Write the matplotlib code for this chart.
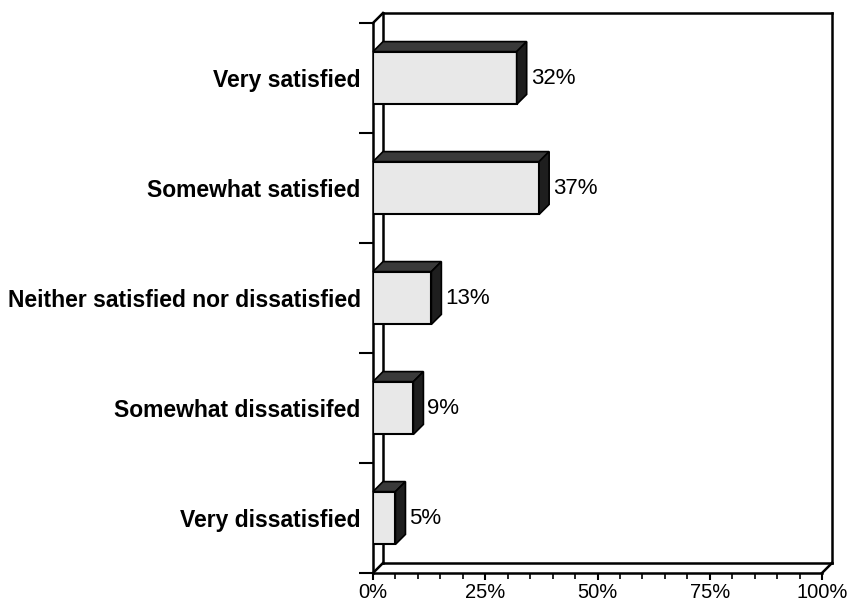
import matplotlib
matplotlib.use("Agg")
import matplotlib.pyplot as plt
from matplotlib.patches import Polygon
from matplotlib.ticker import MultipleLocator, FixedLocator, FuncFormatter

categories = ["Very satisfied", "Somewhat satisfied",
              "Neither satisfied nor dissatisfied",
              "Somewhat dissatisifed", "Very dissatisfied"]
values = [32, 37, 13, 9, 5]
x_ticks = [0, 25, 50, 75, 100]

plt.rcParams["font.family"] = ["Liberation Sans", "DejaVu Sans"]

fig = plt.figure(figsize=(8.48, 6.02), dpi=100)
W, H = 848, 602
x0, x1 = 373, 822
y0, y1 = 573, 23
ax = fig.add_axes([x0 / W, (H - y0) / H, (x1 - x0) / W, (y0 - y1) / H])

n = len(categories)
ax.set_xlim(0, 100)
ax.set_ylim(0, n)
for s in ax.spines.values():
    s.set_visible(False)

# depth of the pseudo-3D extrusion in data units (about 10 px each way)
dx = 10 / (x1 - x0) * 100
dy = 10 / (y0 - y1) * n

lw = 1.8
kw = dict(color="black", lw=lw, clip_on=False, solid_capstyle="projecting")
# back wall and floor frame
ax.plot([dx, 100 + dx], [n + dy, n + dy], **kw)
ax.plot([100 + dx, 100 + dx], [n + dy, dy], **kw)
ax.plot([dx, dx], [n + dy, dy], **kw)
ax.plot([dx, 100 + dx], [dy, dy], **kw)
ax.plot([0, dx], [n, n + dy], **kw)
ax.plot([0, dx], [0, dy], **kw)
ax.plot([100, 100 + dx], [0, dy], **kw)
# front axis lines
ax.plot([0, 0], [0, n], **kw)
ax.plot([0, 100], [0, 0], **kw)

bar_h = 0.48
centers = [n - 0.5 - i for i in range(n)]
ax.barh(centers, values, height=bar_h, color="#e8e8e8",
        edgecolor="black", linewidth=1.5, zorder=3)
for c, v in zip(centers, values):
    top = c + bar_h / 2
    bot = c - bar_h / 2
    ax.add_patch(Polygon([(0, top), (dx, top + dy), (v + dx, top + dy), (v, top)],
                         closed=True, facecolor="#3a3a3a", edgecolor="black",
                         linewidth=1.2, zorder=3, clip_on=False))
    ax.add_patch(Polygon([(v, top), (v + dx, top + dy), (v + dx, bot + dy), (v, bot)],
                         closed=True, facecolor="#1e1e1e", edgecolor="black",
                         linewidth=1.2, zorder=3, clip_on=False))
    ax.text(v + dx + 4 / (x1 - x0) * 100, c, f"{v}%", va="center", ha="left",
            fontsize=16, zorder=4)

# x axis ticks
ax.xaxis.set_major_locator(FixedLocator(x_ticks))
ax.xaxis.set_minor_locator(MultipleLocator(5))
ax.xaxis.set_major_formatter(FuncFormatter(lambda v, p: f"{v:.0f}%"))
ax.tick_params(axis="x", which="major", direction="out", length=5, width=1.5,
               labelsize=14.5, pad=2)
ax.tick_params(axis="x", which="minor", direction="out", length=4, width=1.2)

# y axis: boundary ticks and category labels
ax.yaxis.set_major_locator(FixedLocator(list(range(n + 1))))
ax.yaxis.set_major_formatter(FuncFormatter(lambda v, p: ""))
ax.yaxis.set_minor_locator(FixedLocator(centers))
ax.set_yticklabels(categories, minor=True, fontsize=16.5, fontweight="bold")
ax.tick_params(axis="y", which="major", direction="out", length=10, width=1.5)
ax.tick_params(axis="y", which="minor", length=0, pad=9)

fig.savefig("out.png", dpi=100)
